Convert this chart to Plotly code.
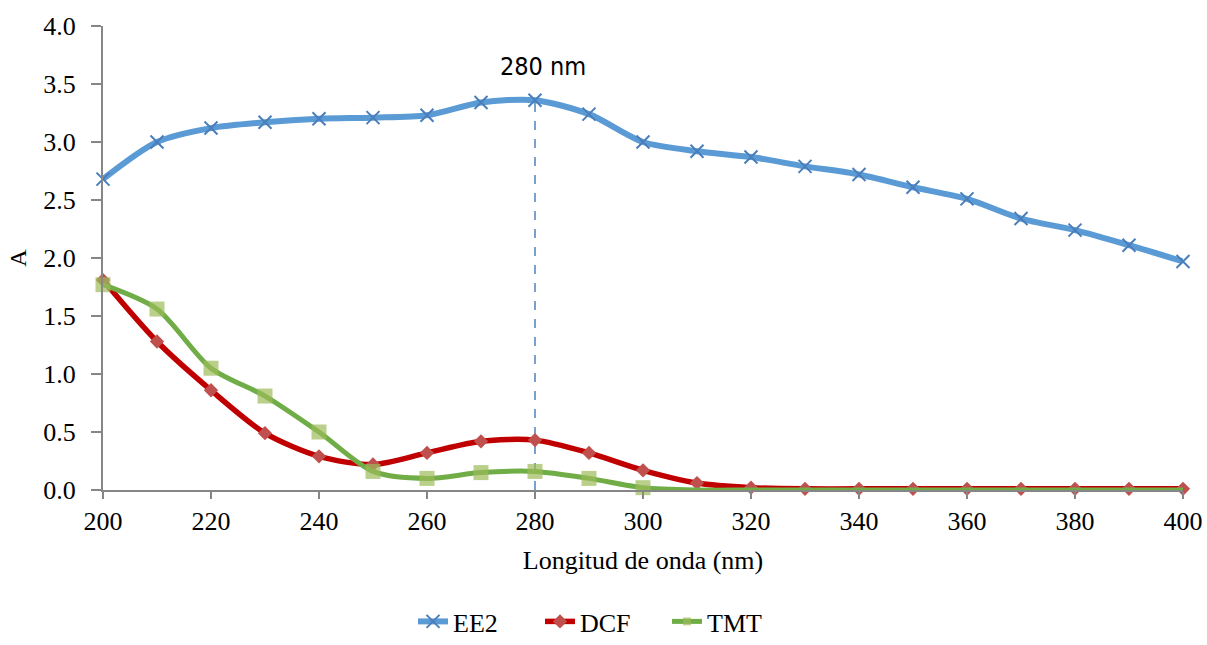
import plotly.graph_objects as go

# Wavelength grid (nm)
wavelength = [200, 210, 220, 230, 240, 250, 260, 270, 280, 290, 300,
              310, 320, 330, 340, 350, 360, 370, 380, 390, 400]

# Absorbance per compound
ee2 = [2.68, 3.00, 3.12, 3.17, 3.20, 3.21, 3.23, 3.34, 3.36, 3.24, 3.00,
       2.92, 2.87, 2.79, 2.72, 2.61, 2.51, 2.34, 2.24, 2.11, 1.97]
dcf = [1.81, 1.28, 0.86, 0.49, 0.29, 0.22, 0.32, 0.42, 0.43, 0.32, 0.17,
       0.06, 0.02, 0.01, 0.01, 0.01, 0.01, 0.01, 0.01, 0.01, 0.01]
tmt = [1.77, 1.56, 1.05, 0.81, 0.50, 0.16, 0.10, 0.15, 0.16, 0.10, 0.02,
       0.0, 0.0, 0.0, 0.0, 0.0, 0.0, 0.0, 0.0, 0.0, 0.0]

# Absorption maximum marker
peak_nm = 280
peak_top = 3.40
peak_label = "280 nm"

x_ticks = [200, 220, 240, 260, 280, 300, 320, 340, 360, 380, 400]
y_ticks = [0.0, 0.5, 1.0, 1.5, 2.0, 2.5, 3.0, 3.5, 4.0]

SERIF = "Liberation Serif"
NARROW = "DejaVu Sans Condensed"
AXIS_GREY = "#868686"

fig = go.Figure()

fig.add_trace(go.Scatter(
    x=wavelength, y=ee2, name="EE2", mode="lines+markers",
    line=dict(color="#5B9BD5", width=6, shape="spline", smoothing=0.8),
    marker=dict(symbol="x-thin", size=13, color="#4A7EBB",
                line=dict(color="#4A7EBB", width=2)),
    cliponaxis=False,
))
fig.add_trace(go.Scatter(
    x=wavelength, y=dcf, name="DCF", mode="lines+markers",
    line=dict(color="#C00000", width=5.5, shape="spline", smoothing=0.8),
    marker=dict(symbol="diamond", size=11, color="#C0504D"),
    cliponaxis=False,
))
# squares only where TMT still absorbs
tmt_sizes = [15 if v > 0 else 0 for v in tmt]
fig.add_trace(go.Scatter(
    x=wavelength, y=tmt, name="TMT", mode="lines+markers",
    line=dict(color="#70AD47", width=5, shape="spline", smoothing=0.8),
    marker=dict(symbol="square", size=tmt_sizes, color="#9BBB59",
                line=dict(color="#9BBB59", width=0)),
    cliponaxis=False,
))

fig.add_shape(type="line", xref="x", yref="y",
              x0=peak_nm, x1=peak_nm, y0=0, y1=peak_top,
              line=dict(color="#4F81BD", width=1.5, dash="dash"), layer="below")
fig.add_annotation(x=peak_nm, y=peak_top, xref="x", yref="y",
                   text=peak_label, showarrow=False, xanchor="center",
                   yanchor="bottom", yshift=13, xshift=8,
                   font=dict(family=NARROW, size=25, color="#000000"))

fig.update_layout(
    width=1207, height=645,
    margin=dict(l=103, r=24, t=26, b=155, autoexpand=False),
    paper_bgcolor="white", plot_bgcolor="white",
    font=dict(family=SERIF, size=26, color="#000000"),
    showlegend=True,
    legend=dict(orientation="h", x=0.5, xanchor="center", xref="container",
                y=-0.01, yanchor="bottom", yref="container",
                font=dict(family=SERIF, size=26),
                entrywidth=82, tracegroupgap=0),
    xaxis=dict(
        range=[200, 400], tickvals=x_ticks, ticktext=[str(v) for v in x_ticks],
        showgrid=False, zeroline=False, automargin=False,
        showline=True, linecolor=AXIS_GREY, linewidth=2,
        ticks="outside", ticklen=7, tickwidth=2, tickcolor=AXIS_GREY,
        tickfont=dict(family=SERIF, size=26),
        title=dict(text="Longitud de onda (nm)", standoff=16,
                   font=dict(family=SERIF, size=26)),
    ),
    yaxis=dict(
        range=[0, 4.0], tickvals=y_ticks, ticktext=[f"{v:.1f}" for v in y_ticks],
        showgrid=False, zeroline=False, automargin=False,
        showline=True, linecolor=AXIS_GREY, linewidth=2,
        ticks="outside", ticklen=10, tickwidth=2, tickcolor=AXIS_GREY,
        ticklabelstandoff=10,
        tickfont=dict(family=SERIF, size=26),
        title=dict(text="A", standoff=10, font=dict(family=SERIF, size=24)),
    ),
)

fig.write_html("out.html")
